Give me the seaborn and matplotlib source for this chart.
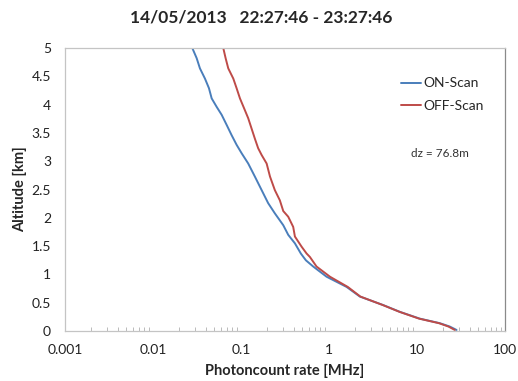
import matplotlib
matplotlib.use("Agg")
import matplotlib.pyplot as plt
import matplotlib.ticker as mticker
import seaborn as sns
import pandas as pd

# ON-Scan profile (altitude km, photocount rate MHz)
on_alt = [0.02, 0.08, 0.14, 0.22, 0.34, 0.46, 0.61, 0.78, 0.96, 1.14, 1.25,
          1.37, 1.55, 1.70, 1.87, 2.08, 2.26, 2.49, 2.73, 2.96, 3.14, 3.29,
          3.46, 3.64, 3.82, 3.96, 4.11, 4.29, 4.46, 4.64, 4.82, 5.00]
on_rate = [28.3, 23.7, 18.2, 10.8, 6.41, 4.14, 2.25, 1.59, 0.942, 0.664, 0.548,
           0.48, 0.411, 0.345, 0.303, 0.243, 0.204, 0.172, 0.144, 0.121, 0.102, 0.0893,
           0.0784, 0.0689, 0.0604, 0.053, 0.0465, 0.0433, 0.039, 0.0342, 0.0314, 0.028]

# OFF-Scan profile
off_alt = [0.02, 0.08, 0.14, 0.22, 0.34, 0.46, 0.61, 0.78, 0.96, 1.14, 1.31,
           1.37, 1.49, 1.67, 1.84, 2.02, 2.12, 2.31, 2.49, 2.73, 2.96, 3.11,
           3.23, 3.40, 3.58, 3.76, 3.93, 4.11, 4.29, 4.46, 4.64, 4.82, 5.00]
off_rate = [27.0, 22.9, 17.8, 10.6, 6.35, 4.1, 2.28, 1.64, 1.03, 0.724, 0.608,
            0.558, 0.49, 0.411, 0.393, 0.345, 0.303, 0.277, 0.243, 0.214, 0.196, 0.172,
            0.157, 0.144, 0.132, 0.121, 0.109, 0.0975, 0.0893, 0.0819, 0.0718, 0.067, 0.063]

series = ["ON-Scan", "OFF-Scan"]
colors = {"ON-Scan": "#4a7ebb", "OFF-Scan": "#be4b48"}

df = pd.concat([
    pd.DataFrame({"rate": on_rate, "alt": on_alt, "scan": series[0]}),
    pd.DataFrame({"rate": off_rate, "alt": off_alt, "scan": series[1]}),
])

sns.set_theme(style="white")
plt.rcParams["font.family"] = ["Lato", "DejaVu Sans"]

fig = plt.figure(figsize=(5.18, 3.81), dpi=100)
ax = fig.add_axes([0.1255, 0.131, 0.849, 0.743])

sns.lineplot(data=df, x="rate", y="alt", hue="scan", palette=colors,
             orient="y", estimator=None, sort=True, linewidth=1.4, ax=ax)

ax.set_xscale("log")
ax.set_xlim(0.001, 100)
ax.set_ylim(0, 5)
ax.set_yticks([0, 0.5, 1, 1.5, 2, 2.5, 3, 3.5, 4, 4.5, 5])
ax.yaxis.set_major_formatter(mticker.FuncFormatter(lambda v, p: f"{v:g}"))
ax.xaxis.set_major_formatter(mticker.FuncFormatter(lambda v, p: f"{v:g}"))
ax.xaxis.set_minor_locator(mticker.LogLocator(base=10, subs=range(2, 10), numticks=20))
ax.xaxis.set_minor_formatter(mticker.NullFormatter())

ax.tick_params(axis="both", which="both", direction="in", colors="#b0b0b0",
               labelcolor="#222222", labelsize=10)
ax.tick_params(axis="x", which="major", length=5, width=0.8, pad=9)
ax.tick_params(axis="x", which="minor", length=3, width=0.6, bottom=True)
ax.tick_params(axis="y", which="major", length=3, width=0.6, pad=10)

for side in ["left", "bottom", "top"]:
    ax.spines[side].set_color("#c4c4c4")
    ax.spines[side].set_linewidth(0.9)
ax.spines["right"].set_color("#8a8a8a")
ax.spines["right"].set_linewidth(0.9)

ax.set_xlabel("Photoncount rate [MHz]", fontsize=10.5, fontweight="bold", labelpad=6)
ax.set_ylabel("Altitude [km]", fontsize=10.5, fontweight="bold", labelpad=3)
fig.suptitle("14/05/2013   22:27:46 - 23:27:46", x=0.505, y=0.975,
             fontsize=12.5, fontweight="bold")

leg = ax.legend(loc="upper left", bbox_to_anchor=(0.735, 0.94), frameon=False,
                fontsize=10, handlelength=1.45, handletextpad=0.15, labelspacing=0.75)
ax.text(0.786, 0.629, "dz = 76.8m", transform=ax.transAxes, fontsize=8.5,
        color="#333333", va="center")

fig.savefig("out.png", dpi=100)
